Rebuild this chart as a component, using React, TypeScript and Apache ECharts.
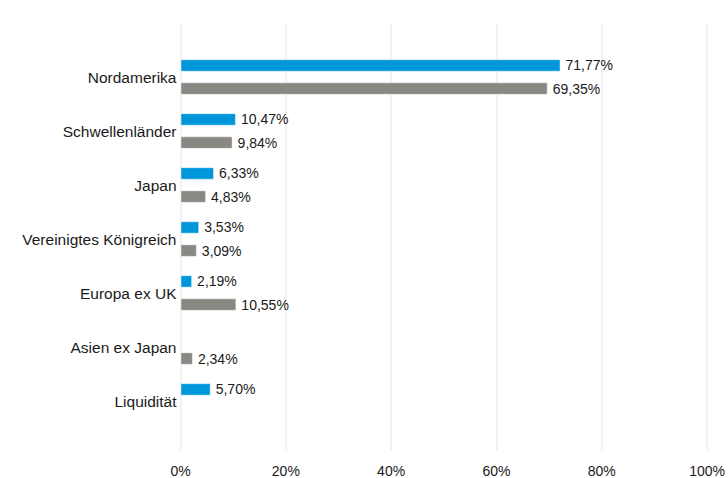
import React, { useEffect, useRef } from "react";
import * as echarts from "echarts";

const categories = [
  "Nordamerika",
  "Schwellenländer",
  "Japan",
  "Vereinigtes Königreich",
  "Europa ex UK",
  "Asien ex Japan",
  "Liquidität",
];
const blueValues: (number | null)[] = [71.77, 10.47, 6.33, 3.53, 2.19, null, 5.7];
const grayValues: (number | null)[] = [69.35, 9.84, 4.83, 3.09, 10.55, 2.34, null];
const xTicks = [0, 20, 40, 60, 80, 100];

const fmt = (v: number) => v.toFixed(2).replace(".", ",") + "%";

export default function App() {
  const ref = useRef<HTMLDivElement>(null);
  useEffect(() => {
    document.body.style.margin = "0";
    const chart = echarts.init(ref.current!, null, { renderer: "svg" });
    const font = "'Liberation Sans', Arial, sans-serif";
    const labelStyle = {
      show: true,
      position: "right" as const,
      distance: 5,
      color: "#1a1a1a",
      fontSize: 14,
      fontFamily: font,
      formatter: (p: any) => fmt(p.value),
    };
    chart.setOption({
      animation: false,
      grid: [
        { left: 180.5, right: 18, top: 23, bottom: 25 },
        { left: 180.5, right: 18, top: 50, bottom: 50 },
      ],
      xAxis: [
        {
          gridIndex: 0,
          type: "value",
          min: xTicks[0],
          max: xTicks[xTicks.length - 1],
          interval: 20,
          axisLine: { show: false },
          axisTick: { show: false },
          splitLine: { show: true, lineStyle: { color: "#eeeeee", width: 1.5 } },
          axisLabel: {
            formatter: "{value}%",
            color: "#1a1a1a",
            fontSize: 14,
            fontFamily: font,
            margin: 14,
          },
        },
        {
          gridIndex: 1,
          type: "value",
          min: 0,
          max: 100,
          show: false,
          splitLine: { show: false },
        },
      ],
      yAxis: [
        {
          gridIndex: 0,
          type: "category",
          data: [""],
          show: false,
        },
        {
          gridIndex: 1,
          type: "category",
          data: categories,
          inverse: true,
          axisLine: { show: false },
          axisTick: { show: false },
          axisLabel: {
            color: "#1a1a1a",
            fontSize: 15.5,
            fontFamily: font,
            margin: 4,
          },
        },
      ],
      series: [
        {
          type: "bar",
          xAxisIndex: 1,
          yAxisIndex: 1,
          data: blueValues,
          barWidth: 12.5,
          barGap: "85%",
          itemStyle: { color: "#0097da", borderColor: "rgba(255,255,255,0.45)", borderWidth: 1 },
          label: labelStyle,
        },
        {
          type: "bar",
          xAxisIndex: 1,
          yAxisIndex: 1,
          data: grayValues,
          barWidth: 12.5,
          barGap: "85%",
          itemStyle: { color: "#8a8883", borderColor: "rgba(255,255,255,0.45)", borderWidth: 1 },
          label: labelStyle,
        },
      ],
    });
    return () => chart.dispose();
  }, []);
  return <div ref={ref} style={{ width: 728, height: 478 }} />;
}
